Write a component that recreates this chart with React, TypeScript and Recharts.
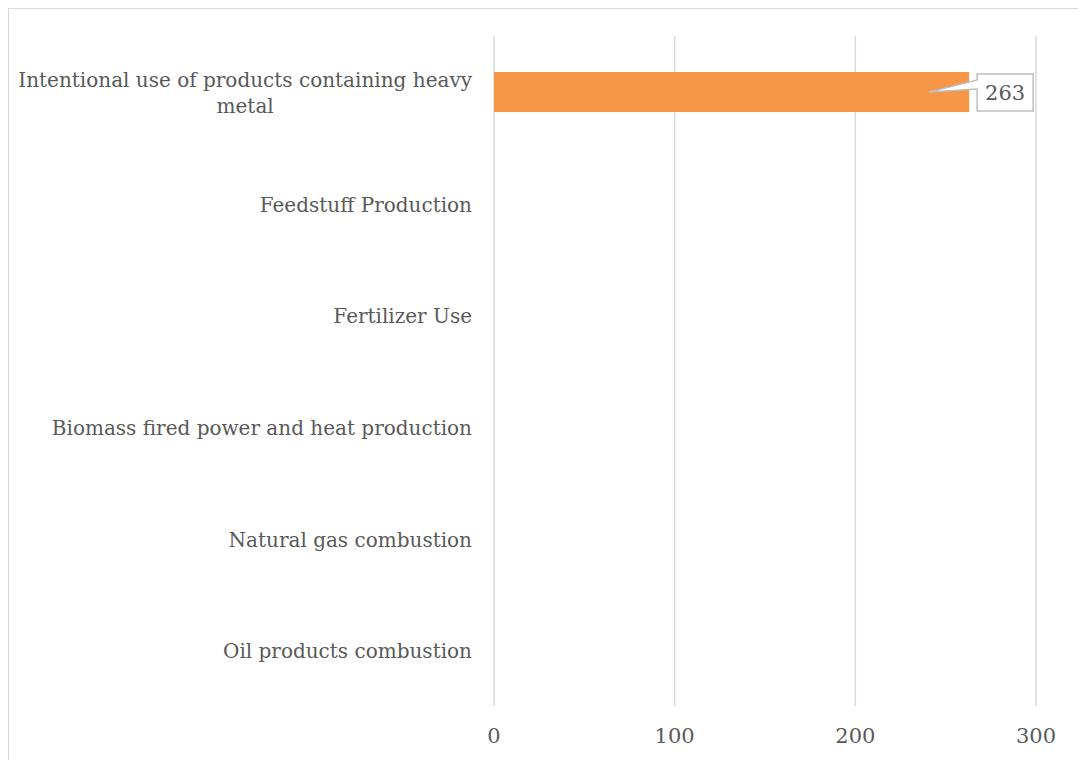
import { BarChart, Bar, XAxis, YAxis, CartesianGrid, LabelList } from 'recharts'

const categories = [
    'Intentional use of products containing heavy metal',
    'Feedstuff Production',
    'Fertilizer Use',
    'Biomass fired power and heat production',
    'Natural gas combustion',
    'Oil products combustion',
]
const emissions = [263, null, null, null, null, null]
const xTicks = [0, 100, 200, 300]

const FONT = '"DejaVu Serif", serif'
const TEXT = '#595959'
const LABEL_SIZE = 20
const LINE_HEIGHT = 26
const MAX_LABEL_WIDTH = 462

const data = categories.map((name, i) => ({ name, value: emissions[i] }))

let ctx: CanvasRenderingContext2D | null = null
function measure(text: string) {
    if (!ctx) {
        ctx = document.createElement('canvas').getContext('2d')
    }
    if (!ctx) return text.length * LABEL_SIZE * 0.55
    ctx.font = `${LABEL_SIZE}px ${FONT}`
    return ctx.measureText(text).width
}

function wrap(text: string) {
    const words = text.split(' ')
    const lines: string[] = []
    let cur = ''
    words.forEach(w => {
        const next = cur ? `${cur} ${w}` : w
        if (cur && measure(next) > MAX_LABEL_WIDTH) {
            lines.push(cur)
            cur = w
        } else {
            cur = next
        }
    })
    if (cur) lines.push(cur)
    return lines
}

// category labels: right aligned block, wrapped lines centred within it
function CategoryTick(props: any) {
    const { x, y, payload } = props
    const lines = wrap(String(payload.value))
    const blockWidth = Math.max(...lines.map(measure))
    const cx = x - blockWidth / 2
    return (
        <g>
            {lines.map((line, i) => (
                <text
                    key={i}
                    x={cx}
                    y={y + 1 + (i - (lines.length - 1) / 2) * LINE_HEIGHT}
                    dy="0.35em"
                    textAnchor="middle"
                    fill={TEXT}
                    fontSize={LABEL_SIZE}
                    fontFamily={FONT}
                >
                    {line}
                </text>
            ))}
        </g>
    )
}

// callout-style data label to the right of the bar end
function Callout(props: any) {
    const { x, y, width, height, value } = props
    if (value == null) return null
    const end = x + width
    const cy = y + height / 2
    const tipX = end - 40
    const left = end + 8
    const right = left + 56
    const top = cy - 18
    const bottom = cy + 19
    const d = `M${left},${top} L${right},${top} L${right},${bottom} L${left},${bottom} L${left},${cy - 3} L${tipX},${cy} L${left},${cy - 12} Z`
    return (
        <g>
            <path d={d} fill="#fff" stroke="#bfbfbf" strokeWidth={1.5} />
            <text
                x={(left + right) / 2}
                y={cy + 1}
                dy="0.35em"
                textAnchor="middle"
                fill={TEXT}
                fontSize={21}
                fontFamily={FONT}
            >
                {value}
            </text>
        </g>
    )
}

export default function App() {
    return (
        <div style={{ width: 1078, height: 752, borderLeft: '1px solid #d9d9d9', borderTop: '1px solid #d9d9d9', boxSizing: 'border-box', overflow: 'hidden' }}>
            <BarChart
                width={1077}
                height={751}
                data={data}
                layout="vertical"
                margin={{ top: 27, right: 50, bottom: 0, left: 0 }}
            >
                <CartesianGrid horizontal={false} stroke="#d9d9d9" strokeWidth={1.5} />
                <XAxis
                    type="number"
                    domain={[0, 300]}
                    ticks={xTicks}
                    axisLine={false}
                    tickLine={false}
                    height={54}
                    tickMargin={16}
                    tick={{ fill: TEXT, fontSize: 21, fontFamily: FONT }}
                />
                <YAxis
                    type="category"
                    dataKey="name"
                    width={485}
                    axisLine={false}
                    tickLine={false}
                    tickMargin={16}
                    interval={0}
                    tick={<CategoryTick />}
                />
                <Bar dataKey="value" fill="#F79646" barSize={40} isAnimationActive={false}>
                    <LabelList dataKey="value" content={<Callout />} />
                </Bar>
            </BarChart>
        </div>
    )
}
